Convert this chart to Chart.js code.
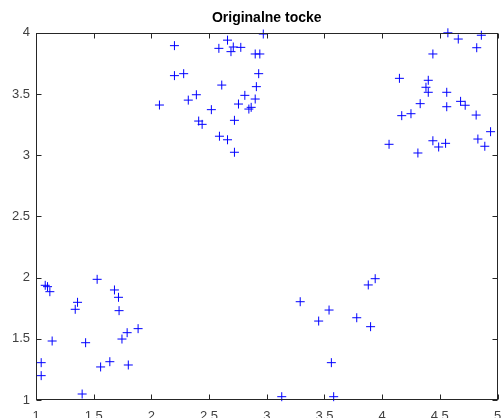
<!DOCTYPE html>
<html>
<head>
<meta charset="utf-8">
<script src="https://cdn.jsdelivr.net/npm/chart.js@4/dist/chart.umd.min.js"></script>
<style>
  body { margin: 0; background: #fff; }
  canvas { display: block; }
</style>
</head>
<body>
<canvas id="plot" width="503" height="418"></canvas>
<script>
// tocke procitane sa slike (x, y)
var ptsX = [
  // gore lijevo
  2.97, 2.20, 2.66, 2.585, 2.71, 2.775, 2.69, 2.90, 2.94, 2.20, 2.28, 2.93, 2.61, 2.91, 2.07,
  2.32, 2.39, 2.81, 2.90, 2.755, 2.52, 2.845, 2.865, 2.72, 2.41, 2.44, 2.59, 2.66, 2.72,
  // gore desno
  4.57, 4.66, 4.86, 4.82, 4.44, 4.15, 4.40, 4.38, 4.40, 4.56, 4.33, 4.56, 4.68, 4.72, 4.815,
  4.17, 4.25, 4.94, 4.83, 4.89, 4.06, 4.44, 4.49, 4.55, 4.31,
  // dolje lijevo
  1.53, 1.08, 1.10, 1.12, 1.68, 1.715, 1.36, 1.34, 1.72, 1.885, 1.79, 1.745, 1.14, 1.43,
  1.045, 1.64, 1.56, 1.80, 1.045, 1.40,
  // dolje desno
  3.94, 3.88, 3.29, 3.54, 3.45, 3.78, 3.90, 3.56, 3.13, 3.58
];
var ptsY = [
  3.99, 3.895, 3.94, 3.873, 3.884, 3.881, 3.846, 3.827, 3.827, 3.65, 3.666, 3.666, 3.573, 3.56, 3.41,
  3.45, 3.494, 3.489, 3.459, 3.418, 3.372, 3.377, 3.391, 3.285, 3.279, 3.252, 3.155, 3.126, 3.024,
  4.0, 3.949, 3.98, 3.878, 3.827, 3.628, 3.612, 3.555, 3.514, 3.514, 3.421, 3.396, 3.44, 3.408, 3.328,
  3.323, 3.339, 3.192, 3.132, 3.073, 3.089, 3.118, 3.067, 3.097, 3.018,
  1.986, 1.937, 1.926, 1.885, 1.899, 1.839, 1.798, 1.741, 1.73, 1.583, 1.55, 1.498, 1.482, 1.468,
  1.305, 1.313, 1.27, 1.286, 1.199, 1.049,
  1.991, 1.94, 1.803, 1.735, 1.645, 1.672, 1.599, 1.305, 1.027, 1.027
];
var xTicks = [1, 1.5, 2, 2.5, 3, 3.5, 4, 4.5, 5];
var yTicks = [1, 1.5, 2, 2.5, 3, 3.5, 4];
var naslov = 'Originalne tocke';

var points = ptsX.map(function (x, i) { return { x: x, y: ptsY[i] }; });

// okvir oko grafa + kratke crtice prema unutra (kao u matlabu)
var boxPlugin = {
  id: 'box',
  afterDraw: function (chart) {
    var ctx = chart.ctx;
    var a = chart.chartArea;
    var sx = chart.scales.x, sy = chart.scales.y;
    var L = Math.round(a.left) + 0.5, R = Math.round(a.right) - 0.5;
    var T = Math.round(a.top) + 0.5, B = Math.round(a.bottom) - 0.5;
    ctx.save();
    ctx.strokeStyle = '#262626';
    ctx.lineWidth = 1;
    ctx.strokeRect(L, T, R - L, B - T);
    ctx.beginPath();
    xTicks.forEach(function (v) {
      var px = Math.round(sx.getPixelForValue(v)) + 0.5;
      ctx.moveTo(px, B); ctx.lineTo(px, B - 5);
      ctx.moveTo(px, T); ctx.lineTo(px, T + 5);
    });
    yTicks.forEach(function (v) {
      var py = Math.round(sy.getPixelForValue(v)) + 0.5;
      ctx.moveTo(L, py); ctx.lineTo(L + 5, py);
      ctx.moveTo(R, py); ctx.lineTo(R - 5, py);
    });
    ctx.stroke();
    ctx.restore();
  }
};

var tickFont = { family: 'Liberation Sans, Arial, sans-serif', size: 13 };

new Chart(document.getElementById('plot').getContext('2d'), {
  type: 'scatter',
  data: {
    datasets: [{
      data: points,
      pointStyle: 'cross',
      pointRadius: 4.5,
      borderColor: '#0000ff',
      backgroundColor: '#0000ff',
      pointBorderWidth: 1,
      clip: 5
    }]
  },
  options: {
    responsive: false,
    animation: false,
    layout: { padding: { left: 0, right: 3, top: 0, bottom: 0 } },
    plugins: {
      legend: { display: false },
      tooltip: { enabled: false },
      title: {
        display: true,
        text: naslov,
        fullSize: false,
        color: '#000',
        font: { family: 'Liberation Sans, Arial, sans-serif', size: 14, weight: 'bold' },
        padding: { top: 10, bottom: 6 }
      }
    },
    scales: {
      x: {
        type: 'linear',
        min: 1, max: 5,
        afterBuildTicks: function (s) { s.ticks = xTicks.map(function (v) { return { value: v }; }); },
        afterFit: function (s) { s.height = 18; s.paddingLeft = 0; s.paddingRight = 0; },
        grid: { display: false, drawTicks: false },
        border: { display: false },
        ticks: {
          color: '#404040', font: tickFont, padding: 9, maxRotation: 0,
          callback: function (v) { return String(v); }
        }
      },
      y: {
        type: 'linear',
        min: 1, max: 4,
        afterBuildTicks: function (s) { s.ticks = yTicks.map(function (v) { return { value: v }; }); },
        afterFit: function (s) { s.width = 36; s.paddingTop = 0; s.paddingBottom = 0; },
        grid: { display: false, drawTicks: false },
        border: { display: false },
        ticks: {
          color: '#404040', font: tickFont, padding: 6,
          callback: function (v) { return String(v); }
        }
      }
    }
  },
  plugins: [boxPlugin]
});
</script>
</body>
</html>
